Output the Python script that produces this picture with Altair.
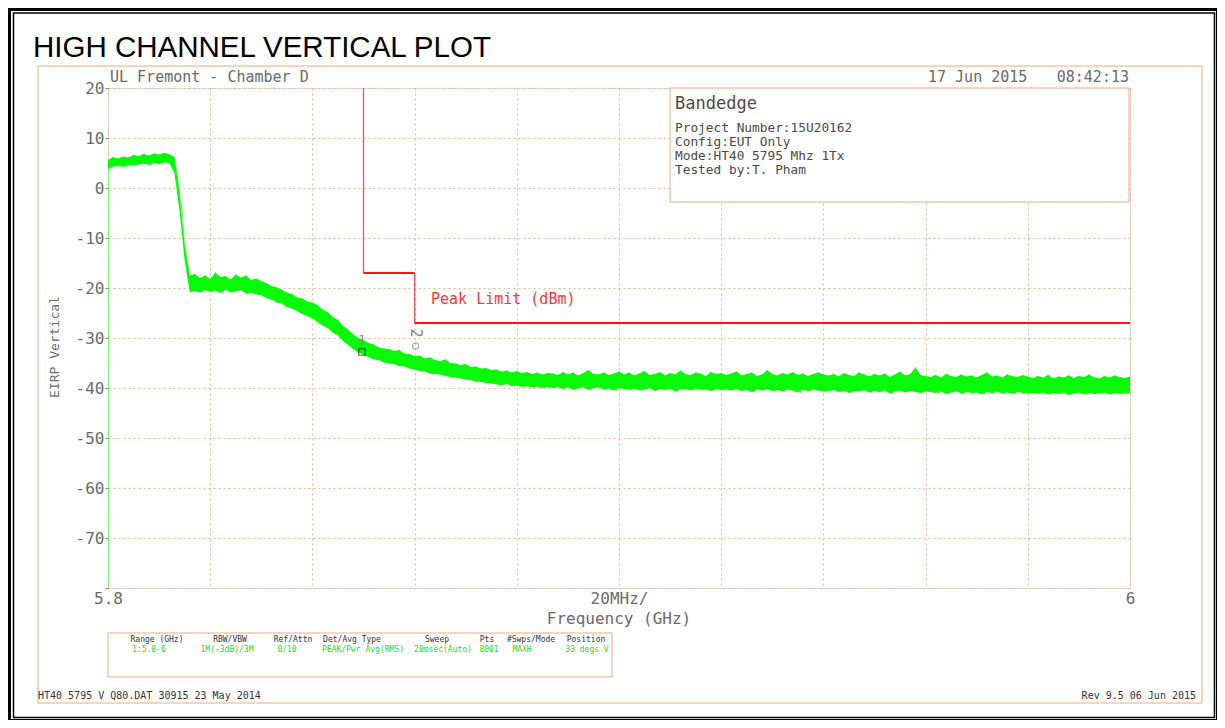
import altair as alt
import pandas as pd

# ---------------- data ----------------
freq_ghz = [round(5.8 + k * 0.001, 3) for k in range(201)]   # 1 MHz sampling grid

trace_hi = [
    5.6, 6.2, 5.9, 6.3, 6.1, 6.6, 6.4, 6.8, 6.5, 6.9, 6.7, 7.0, 6.8,
    6.2, -1.0, -11.5, -17.5,
    -17.2, -18.0, -17.5, -18.2, -16.9, -17.8, -17.6, -18.3, -17.3, -17.9, -17.5, -18.4, -18.1,
    -18.6, -19.0, -19.6, -19.9, -20.3, -20.9, -21.2, -21.9, -22.1, -22.7,
    -22.9, -23.4, -24.3, -24.8, -25.8, -26.4, -27.6, -28.3, -29.3, -30.0,
    -30.4, -31.0, -31.3, -31.9, -32.1, -32.2, -32.6, -32.4, -33.1, -33.2,
    -33.6, -33.5, -34.1, -33.9, -34.4, -34.6, -34.3, -35.0, -35.1, -35.4,
    -35.2, -35.8, -35.7, -36.1, -36.0, -36.4, -36.3, -36.7, -36.5, -36.9,
    -36.6, -37.0, -36.8, -37.2, -36.9, -37.3, -37.0,
    -37.1, -37.4, -36.8, -37.3, -36.9, -37.5, -37.0, -36.4, -37.2, -37.3, -36.9, -37.4, -37.1, -36.7,
    -37.3, -36.9, -37.5, -37.1, -36.6, -37.4, -37.2, -36.8, -37.5, -37.0,
    -37.3, -36.5, -37.2, -37.4, -36.9, -37.1, -37.6, -36.8, -37.2, -37.0,
    -37.4, -37.1, -36.7, -37.5, -37.2, -36.9, -37.6, -37.3, -36.4, -37.2,
    -37.5, -37.0, -37.3, -36.8, -37.4, -37.1, -37.6, -37.2, -36.9, -37.3,
    -37.5, -37.2, -37.7, -37.0, -37.4, -37.6, -36.9, -37.3, -37.7, -37.2,
    -37.5, -37.1, -37.8, -37.3, -36.7, -37.5, -37.2, -35.9, -37.4, -37.6,
    -37.8, -37.4, -37.9, -37.2, -37.6, -37.8, -37.3, -37.7, -37.5, -37.9,
    -37.4, -36.9, -37.7, -37.5, -37.9, -37.3, -37.6, -37.8, -37.4, -37.7,
    -38.0, -37.6, -37.9, -37.4, -38.1, -37.7, -37.9, -37.5, -38.0, -37.6,
    -37.8, -37.3, -37.9, -38.1, -37.6, -37.9, -37.5, -37.8, -38.0, -37.7,
]
trace_lo = [
    3.8, 4.3, 4.4, 4.2, 4.6, 4.5, 4.7, 4.9, 4.6, 5.0, 4.8, 5.1, 5.0,
    3.0, -4.5, -14.5, -20.8,
    -20.6, -20.9, -20.4, -20.8, -20.5, -21.0, -20.3, -20.9, -20.6, -20.4, -21.1, -20.9, -21.3,
    -21.4, -22.0, -22.3, -22.9, -23.1, -23.8, -24.1, -24.6, -25.2, -25.6,
    -26.1, -26.8, -27.5, -28.0, -28.9, -29.5, -30.6, -31.4, -32.2, -32.9,
    -33.4, -33.8, -34.3, -34.4, -34.9, -35.1, -35.2, -35.6, -35.7, -36.1,
    -36.3, -36.6, -36.7, -37.1, -37.2, -37.3, -37.6, -37.8, -37.9, -38.1,
    -38.3, -38.4, -38.7, -38.8, -39.0, -39.1, -39.3, -39.4, -39.2, -39.6,
    -39.5, -39.8, -39.6, -39.9, -39.7, -40.0, -39.8,
    -40.0, -39.8, -40.2, -39.9, -40.3, -40.1, -39.8, -40.4, -40.0, -39.9, -40.3, -40.1, -40.5, -40.0,
    -40.2, -40.4, -40.1, -40.5, -40.3, -40.0, -40.6, -40.2, -40.4, -40.1,
    -40.7, -40.3, -40.2, -40.5, -40.1, -40.4, -40.3, -40.6, -40.2, -40.4,
    -40.3, -40.5, -40.2, -40.6, -40.4, -40.8, -40.3, -40.5, -40.2, -40.6,
    -40.4, -40.7, -40.3, -40.5, -40.9, -40.4, -40.6, -40.3, -40.5, -40.7,
    -40.6, -40.4, -40.8, -40.5, -41.0, -40.6, -40.7, -40.4, -40.9, -40.6,
    -40.8, -40.5, -41.1, -40.7, -40.5, -40.9, -40.6, -40.8, -41.0, -40.7,
    -40.8, -41.0, -40.7, -41.2, -40.9, -40.7, -41.1, -40.8, -41.0, -40.9,
    -41.3, -40.8, -41.0, -40.7, -41.1, -40.9, -41.2, -40.8, -41.0, -41.1,
    -41.0, -41.2, -40.9, -41.3, -41.0, -41.2, -40.9, -41.4, -41.1, -40.9,
    -41.3, -41.0, -41.2, -41.1, -40.9, -41.3, -41.0, -41.2, -41.1, -41.0,
]
assert len(trace_hi) == 201 and len(trace_lo) == 201
start_level = -80  # first sweep sample at the bottom edge

limit_h_f1 = [5.85, 5.86]
limit_h_f2 = [5.86, 6.0]
limit_h_db = [-17, -27]
limit_v_f = [5.85, 5.86]
limit_v_top = [20, -17]
limit_v_bot = [-17, -27]

marker1_f, marker1_db = [5.8497], [-32.8]
marker2_f, marker2_db = [5.8602], [-31.6]

y_ticks = [-80, -70, -60, -50, -40, -30, -20, -10, 0, 10, 20]
x_ticks = [5.8, 5.82, 5.84, 5.86, 5.88, 5.9, 5.92, 5.94, 5.96, 5.98, 6.0]

info_lines = ["Project Number:15U20162", "Config:EUT Only", "Mode:HT40 5795 Mhz 1Tx", "Tested by:T. Pham"]
table_heads = ["Range (GHz)", "RBW/VBW", "Ref/Attn", "Det/Avg Type", "Sweep", "Pts", "#Swps/Mode", "Position"]
table_vals = ["1:5.8-6", "1M(-3dB)/3M", "0/10", "PEAK/Pwr Avg(RMS)", "20msec(Auto)", "8001", "MAXH", "33 degs V"]

# ---------------- tables ----------------
band = pd.DataFrame({"f": freq_ghz, "hi": trace_hi, "lo": trace_lo})
zig_f, zig_v, zig_o = [5.8], [start_level], [-1]
for k in range(201):
    zig_f += [freq_ghz[k], freq_ghz[k] + 0.0005]
    zig_v += [trace_hi[k], trace_lo[k]]
    zig_o += [2 * k, 2 * k + 1]
zig = pd.DataFrame({"f": zig_f, "v": zig_v, "o": zig_o})
start_seg = pd.DataFrame({"f": [5.8, 5.8], "v": [start_level, trace_lo[0]], "o": [0, 1]})
lim_h = pd.DataFrame({"f": limit_h_f1, "f2": limit_h_f2, "v": limit_h_db})
lim_v = pd.DataFrame({"f": limit_v_f, "v": limit_v_top, "v2": limit_v_bot})
mk1 = pd.DataFrame({"f": marker1_f, "v": marker1_db})
mk2 = pd.DataFrame({"f": marker2_f, "v": marker2_db})
one = pd.DataFrame({"k": [0]})

# ---------------- styling ----------------
MONO = "DejaVu Sans Mono"
FRAME = "#f0aa7c"
GRID = "#f0b48c"
LBL = "#6a6a6a"
TXT = "#4a4a4a"

XS = alt.Scale(domain=[5.8, 6.0], nice=False, zero=False)
YS = alt.Scale(domain=[-80, 20], nice=False, zero=False)
XAX = alt.Axis(values=x_ticks, grid=True, gridDash=[2, 3], gridColor=GRID, gridWidth=1,
               domain=False, ticks=False, labelFont=MONO, labelFontSize=16, labelColor=LBL,
               labelPadding=2, labelFlush=False, labelOverlap=False, title=None,
               labelExpr="datum.value < 5.801 ? '5.8' : (datum.value > 5.999 ? '6' : (abs(datum.value - 5.9) < 0.001 ? '20MHz/' : ''))")
YAX = alt.Axis(values=y_ticks, grid=True, gridDash=[2, 3], gridColor=GRID, gridWidth=1,
               domain=False, ticks=True, tickSize=3, tickColor="#888888", labelFont=MONO,
               labelFontSize=16, labelColor=LBL, labelPadding=1, labelOverlap=False, title=None,
               labelExpr="datum.value > -75 ? '' + datum.value : ''")


def X(field):
    return alt.X(field, type="quantitative", scale=XS, axis=XAX)


def Y(field):
    return alt.Y(field, type="quantitative", scale=YS, axis=YAX)


def text(s, x, y, size, color=TXT, align="left", baseline="middle", font=MONO, angle=0):
    return alt.Chart(one).mark_text(text=s, fontSize=size, color=color, align=align,
                                    baseline=baseline, font=font, angle=angle).encode(
        x=alt.value(x), y=alt.value(y))


def box(x1, y1, x2, y2, stroke, sw, fill="white", fo=0.0):
    return alt.Chart(one).mark_rect(fill=fill, fillOpacity=fo, stroke=stroke, strokeWidth=sw).encode(
        x=alt.value(x1), x2=alt.value(x2), y=alt.value(y1), y2=alt.value(y2))


layers = []
# trace: solid noise band plus sweep zigzag
layers.append(alt.Chart(band).mark_area(color="#00ff00", opacity=1, clip=True).encode(
    x=X("f"), y=Y("lo"), y2="hi"))
layers.append(alt.Chart(zig).mark_line(color="#22e822", strokeWidth=0.6, clip=True).encode(
    x=X("f"), y=Y("v"), order="o:Q"))
layers.append(alt.Chart(start_seg).mark_line(color="#66ff66", strokeWidth=1.5, clip=True).encode(
    x=X("f"), y=Y("v"), order="o:Q"))

# info box (white, hides grid)
layers.append(box(562, 0, 1021, 114, FRAME, 1, fo=1.0))
layers.append(text("Bandedge", 567, 16, 17, TXT))
for i, s in enumerate(info_lines):
    layers.append(text(s, 567, 40 + i * 14.1, 12.8, TXT))

# limit line
layers.append(alt.Chart(lim_v).mark_rule(stroke="#ff5050", color="#ff5050", strokeWidth=1.3).encode(
    x=X("f"), y=Y("v"), y2="v2"))
layers.append(alt.Chart(lim_h).mark_rule(stroke="#ff1010", color="#ff1010", strokeWidth=2.2).encode(
    x=X("f"), x2="f2", y=Y("v")))
layers.append(text("Peak Limit (dBm)", 323, 211, 15, "#ff3333"))

# markers
layers.append(alt.Chart(mk1).mark_point(shape="square", size=42, filled=False, color="#1a1a1a",
                                        strokeWidth=1.2).encode(x=X("f"), y=Y("v")))
layers.append(alt.Chart(mk1).mark_text(text="1", fontSize=13, font=MONO, color="#888888",
                                       dy=-12).encode(x=X("f"), y=Y("v")))
layers.append(alt.Chart(mk2).mark_point(shape="circle", size=40, filled=False, color="#888888",
                                        strokeWidth=1.2).encode(x=X("f"), y=Y("v")))
layers.append(alt.Chart(mk2).mark_text(text="2", fontSize=15, font=MONO, color="#888888",
                                       angle=90, dx=-13).encode(x=X("f"), y=Y("v")))

# frames
layers.append(box(-100, -80, 1111, 634, "black", 6))
layers.append(box(-94.5, -75, 1106.5, 629.5, "black", 1.5))
layers.append(box(-70, -22, 1094, 615, FRAME, 1))

# header texts
layers.append(text("HIGH CHANNEL VERTICAL PLOT", -75, -31, 29.5, "black", baseline="alphabetic",
                   font="Liberation Sans"))
layers.append(text("UL Fremont - Chamber D", 2, -11, 15, LBL))
layers.append(text("17 Jun 2015", 820, -11, 15, LBL))
layers.append(text("08:42:13", 1021, -11, 15, LBL, align="right"))

# axis titles
layers.append(text("Frequency (GHz)", 511, 531, 16, LBL, align="center"))
layers.append(text("EIRP Vertical", -53, 259, 13, LBL, align="center", angle=270))

# settings table
layers.append(box(0, 545, 504, 589, FRAME, 1))
head_x = [49, 122, 185, 244, 329, 379, 423, 478]
val_x = [24, 119, 179, 255, 335, 381, 414, 479]
for s, hx in zip(table_heads, head_x):
    layers.append(text(s, hx, 552, 8, "#333333", align="center"))
for i, (s, vx) in enumerate(zip(table_vals, val_x)):
    layers.append(text(s, vx, 562, 8, "#22dd22", align="left" if i == 0 else "center"))

# footer
layers.append(text("HT40 5795 V Q80.DAT 30915 23 May 2014", -70, 608, 10, "#333333"))
layers.append(text("Rev 9.5 06 Jun 2015", 1088, 608, 10, "#333333", align="right"))

chart = alt.layer(*layers).properties(
    width=1022, height=500,
    padding={"left": 100, "top": 80, "right": 87, "bottom": 132},
    autosize=alt.AutoSizeParams(type="none"),
).configure_view(stroke=FRAME, strokeWidth=1).configure(background="white")

chart.save("out.html", embed_options={"renderer": "svg", "actions": False})
